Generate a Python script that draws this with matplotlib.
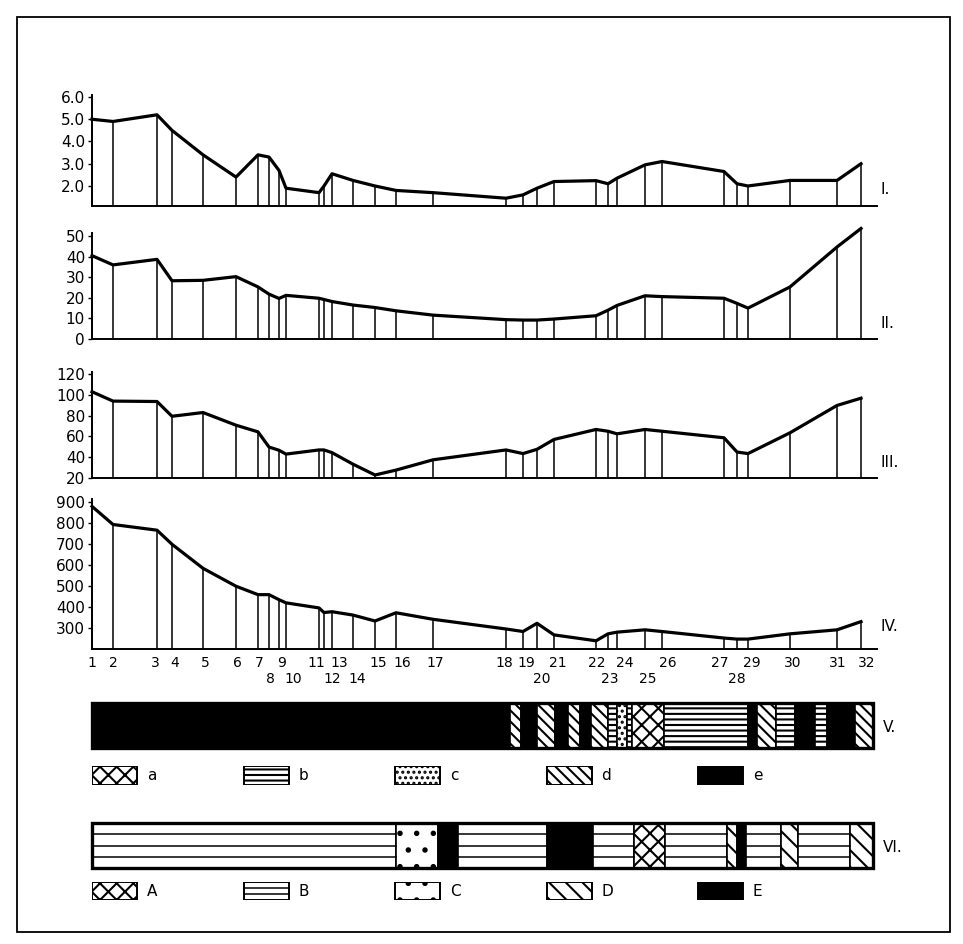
import matplotlib
matplotlib.use("Agg")
import matplotlib.pyplot as plt
from matplotlib.patches import Rectangle

# Figure size in pixels
W, H = 963, 944

# Station numbers and their distance along the profile
stations = list(range(1, 33))
dist = [0, 21, 65, 80, 111, 144, 166, 177, 187, 194, 227, 232, 240, 261, 283, 304, 341,
        414, 431, 445, 462, 504, 516, 525, 553, 570, 632, 645, 656, 698, 745, 769]
second_row = [8, 10, 12, 14, 20, 23, 25, 28]
# small sideways nudges of the station numbers (pixels), as set in the original
label_shift = [0, 0, -2, 3, 2, 1, 1, 1, 3, 7, -3, 8, 7, 4, 3, 6, 2,
               -2, 3, 5, 4, 1, 2, 8, 3, 6, -4, 0, 4, 3, 1, 6]

# Curves I-IV
curve_1 = [5.0, 4.9, 5.2, 4.5, 3.4, 2.4, 3.4, 3.3, 2.7, 1.9, 1.7, 2.0, 2.55, 2.25, 2.0, 1.8,
           1.7, 1.45, 1.6, 1.9, 2.2, 2.24, 2.1, 2.35, 2.95, 3.1, 2.65, 2.1, 2.0, 2.25, 2.25, 3.0]
curve_2 = [40.5, 36, 38.7, 28.3, 28.5, 30.3, 25.3, 21.8, 19.7, 21.2, 19.8, 19.2, 18.2, 16.5,
           15.3, 13.7, 11.6, 9.4, 9.2, 9.2, 9.7, 11.3, 14, 16.3, 21, 20.6, 19.8, 17.3, 15,
           25.3, 44.7, 53.7]
curve_3 = [103, 94, 93.6, 79.4, 83, 70.8, 64.4, 49.8, 46.7, 43, 47, 47, 44.4, 33.3, 22.9,
           27.6, 37.5, 47, 43.5, 47.6, 57.1, 66.7, 65, 62.5, 66.7, 65, 58.7, 45, 43.5, 63.5,
           89.8, 96.8]
curve_4 = [877, 791, 764, 697, 583, 498, 458, 458, 434, 419, 395, 373, 377, 361, 333, 372,
           341, 295, 283, 322, 267, 239, 272, 280, 291, 283, 252, 247, 247, 272, 291, 330]

ticks_1 = [2.0, 3.0, 4.0, 5.0, 6.0]
ticks_2 = [0, 10, 20, 30, 40, 50]
ticks_3 = [20, 40, 60, 80, 100, 120]
ticks_4 = [300, 400, 500, 600, 700, 800, 900]

# Strip V and VI: segment edges along the profile and their class
bar5_edges = [0, 418, 429, 445, 463, 476, 488, 499, 516, 525, 535, 540, 572, 656, 665, 684,
              703, 723, 735, 763, 781]
bar5_kinds = ['e', 'd', 'e', 'd', 'e', 'd', 'e', 'd', 'b', 'c', 'b', 'a', 'b', 'e', 'd', 'b',
              'e', 'b', 'e', 'd']
bar6_edges = [0, 304, 346, 366, 455, 501, 542, 573, 635, 645, 654, 689, 706, 758, 781]
bar6_kinds = ['B', 'C', 'E', 'B', 'E', 'B', 'A', 'B', 'D', 'E', 'B', 'D', 'B', 'D']

legend5 = ['a', 'b', 'c', 'd', 'e']
legend6 = ['A', 'B', 'C', 'D', 'E']

hatches = {'a': 'xx', 'b': '---', 'c': '...', 'd': '\\\\\\',
           'A': 'xx', 'C': '.', 'D': '\\\\'}

plt.rcParams['font.family'] = 'DejaVu Sans'
plt.rcParams['hatch.linewidth'] = 1.5
plt.rcParams['hatch.color'] = 'black'

fig = plt.figure(figsize=(W / 100, H / 100), dpi=100)
X0, X1 = 92, 877


def box(top, bottom):
    return [X0 / W, 1 - bottom / H, (X1 - X0) / W, (bottom - top) / H]


def panel(top, bottom, vals, ylim, ticks, fmt, tag):
    ax = fig.add_axes(box(top, bottom))
    ax.set_xlim(0, X1 - X0)
    ax.set_ylim(*ylim)
    ax.plot(dist, vals, color='black', lw=2.3, clip_on=False, solid_joinstyle='round')
    ax.vlines(dist, ylim[0], vals, color='black', lw=1.1, clip_on=False)
    for s in ['top', 'right']:
        ax.spines[s].set_visible(False)
    ax.spines['left'].set_linewidth(1.4)
    ax.spines['bottom'].set_linewidth(1.4)
    ax.set_xticks([])
    ax.set_yticks(ticks)
    ax.set_yticklabels([fmt.format(t) for t in ticks], fontsize=11)
    ax.tick_params(axis='y', length=3, width=1, pad=2)
    ax.text(1.005, 0.15, tag, transform=ax.transAxes, fontsize=11, va='center', ha='left')
    return ax


panel(95, 206, curve_1, (1.1, 6.09), ticks_1, '{:.1f}', 'I.')
panel(233, 339, curve_2, (0, 51.5), ticks_2, '{:d}', 'II.')
panel(372, 478, curve_3, (20, 122), ticks_3, '{:d}', 'III.')
ax4 = panel(499, 649, curve_4, (200, 912), ticks_4, '{:d}', 'IV.')

# station numbers below panel IV
for s, d, sh in zip(stations, dist, label_shift):
    dy = -30 if s in second_row else -14
    ax4.annotate(str(s), xy=(d, 0), xycoords=('data', 'axes fraction'),
                 xytext=(sh, dy), textcoords='offset pixels',
                 ha='center', va='center', fontsize=10)


def segment(ax, x0, x1, y0, y1, kind, lw=1.0, nlines=3):
    if kind in ('e', 'E'):
        ax.add_patch(Rectangle((x0, y0), x1 - x0, y1 - y0, facecolor='black',
                               edgecolor='black', lw=lw))
    elif kind == 'B':
        ax.add_patch(Rectangle((x0, y0), x1 - x0, y1 - y0, facecolor='white',
                               edgecolor='black', lw=lw))
        for i in range(1, nlines + 1):
            yy = y0 + (y1 - y0) * i / (nlines + 1)
            ax.plot([x0, x1], [yy, yy], color='black', lw=1.1)
    else:
        ax.add_patch(Rectangle((x0, y0), x1 - x0, y1 - y0, facecolor='white',
                               edgecolor='black', hatch=hatches[kind], lw=lw))


def strip(top, bottom, edges, kinds, tag):
    ax = fig.add_axes(box(top, bottom))
    ax.set_xlim(0, X1 - X0)
    ax.set_ylim(0, 1)
    ax.axis('off')
    for x0, x1, k in zip(edges[:-1], edges[1:], kinds):
        segment(ax, x0, x1, 0, 1, k, lw=1.2, nlines=3)
    ax.add_patch(Rectangle((0, 0), edges[-1], 1, fill=False, edgecolor='black', lw=2.4,
                           clip_on=False))
    ax.text(edges[-1] + 10, 0.45, tag, fontsize=11, va='center', ha='left')


def legend_row(top, bottom, names):
    ax = fig.add_axes(box(top, bottom))
    ax.set_xlim(0, X1 - X0)
    ax.set_ylim(0, 1)
    ax.axis('off')
    for i, k in enumerate(names):
        x0 = i * 151.5
        segment(ax, x0, x0 + 45, 0, 1, k, lw=1.4, nlines=2)
        ax.text(x0 + 55, 0.5, k, fontsize=11, va='center', ha='left')


strip(703, 748, bar5_edges, bar5_kinds, 'V.')
legend_row(766, 785, legend5)
strip(823, 868, bar6_edges, bar6_kinds, 'VI.')
legend_row(882, 900, legend6)

# outer frame
fig.add_artist(Rectangle((17 / W, 1 - 932 / H), (950 - 17) / W, (932 - 17) / H,
                         transform=fig.transFigure, fill=False, lw=1.3, edgecolor='black'))

fig.savefig('out.png', dpi=100)
